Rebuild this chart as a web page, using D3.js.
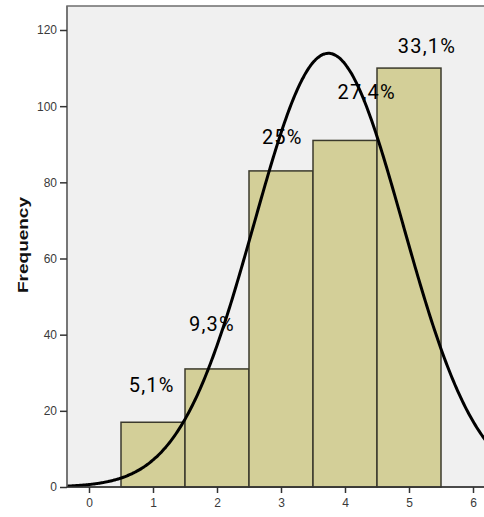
<!DOCTYPE html>
<html><head><meta charset="utf-8">
<script src="https://cdn.jsdelivr.net/npm/d3@7"></script>
<style>body{margin:0;background:#fff}svg{display:block}</style>
</head><body><svg id="c" width="484" height="517"></svg>
<script>
// data
const binCenters = [1, 2, 3, 4, 5];
const frequencies = [17, 31, 83, 91, 110];
const percentLabels = ["5,1%", "9,3%", "25%", "27,4%", "33,1%"];
// annotation anchors (data units: x, y)
const labelX = [0.98, 1.92, 3.02, 4.34, 5.28];
const labelY = [25, 41, 90, 102, 114];
const yTicks = [0, 20, 40, 60, 80, 100, 120];
const xTicks = [0, 1, 2, 3, 4, 5, 6];

(function () {
const svg = d3.select("#c");
const pL = 67, pT = 6, pB = 487, pR = 520;
const x = d3.scaleLinear().domain([0, 6]).range([89, 473]);
const xDomLeft = x.invert(pL);
const y = d3.scaleLinear().domain([0, 120]).range([pB, 30]);

svg.append("defs").append("clipPath").attr("id", "clip")
  .append("rect").attr("x", pL).attr("y", pT).attr("width", pR - pL).attr("height", pB - pT);

svg.append("rect").attr("x", pL).attr("y", pT).attr("width", pR - pL).attr("height", pB - pT)
  .attr("fill", "#f0f0f0").attr("stroke", "#6e6e6e").attr("stroke-width", 1.5);

// bars
svg.append("g").selectAll("rect").data(binCenters).join("rect")
  .attr("x", (d) => x(d - 0.5))
  .attr("width", (d) => x(d + 0.5) - x(d - 0.5))
  .attr("y", (d, i) => y(frequencies[i]))
  .attr("height", (d, i) => y(0) - y(frequencies[i]))
  .attr("fill", "#d3cf98").attr("stroke", "#3b3a2c").attr("stroke-width", 1.5);

// normal curve fitted to data
const N = d3.sum(frequencies);
const mean = d3.sum(binCenters, (d, i) => d * frequencies[i]) / N;
const variance = d3.sum(binCenters, (d, i) => frequencies[i] * (d - mean) ** 2) / (N - 1);
const sd = Math.sqrt(variance);
const xs = d3.range(xDomLeft, 7, 0.02);
const line = d3.line().x((d) => x(d)).y((d) => y(N / (sd * Math.sqrt(2 * Math.PI)) * Math.exp(-0.5 * ((d - mean) / sd) ** 2))).curve(d3.curveBasis);
svg.append("path").datum(xs).attr("d", line).attr("clip-path", "url(#clip)")
  .attr("fill", "none").attr("stroke", "#000").attr("stroke-width", 3);

// axes
const yAxis = svg.append("g").attr("transform", `translate(${pL},0)`)
  .call(d3.axisLeft(y).tickValues(yTicks).tickSize(7).tickPadding(3));
const xAxis = svg.append("g").attr("transform", `translate(0,${pB})`)
  .call(d3.axisBottom(x).tickValues(xTicks).tickFormat(d3.format("d")).tickSize(6).tickPadding(5));
[yAxis, xAxis].forEach((g) => {
  g.select(".domain").attr("stroke", "#333").attr("stroke-width", 1.5);
  g.selectAll(".tick line").attr("stroke", "#333").attr("stroke-width", 1.5);
  g.selectAll(".tick text").attr("fill", "#3a3a3a").style("font-family", "Liberation Sans, Arial, sans-serif").style("font-size", "12px");
});
xAxis.select(".domain").attr("d", `M${pL},0H${pR}`);
yAxis.select(".domain").attr("stroke", "#6e6e6e").attr("d", `M0,${pB}V${pT}`);

// y label
svg.append("text").attr("transform", "translate(28,245) rotate(-90)")
  .attr("text-anchor", "middle").attr("fill", "#111")
  .attr("textLength", 96).attr("lengthAdjust", "spacingAndGlyphs")
  .style("font-family", "Liberation Sans, Arial, sans-serif").style("font-size", "14px").style("font-weight", "bold")
  .text("Frequency");

// percent labels
svg.append("g").selectAll("text").data(percentLabels).join("text")
  .attr("x", (d, i) => x(labelX[i])).attr("y", (d, i) => y(labelY[i]))
  .attr("text-anchor", "middle").attr("fill", "#000")
  .style("font-family", "Roboto, sans-serif").style("font-size", "20px").style("letter-spacing", "1.2px")
  .text((d) => d);
})();
</script></body></html>
